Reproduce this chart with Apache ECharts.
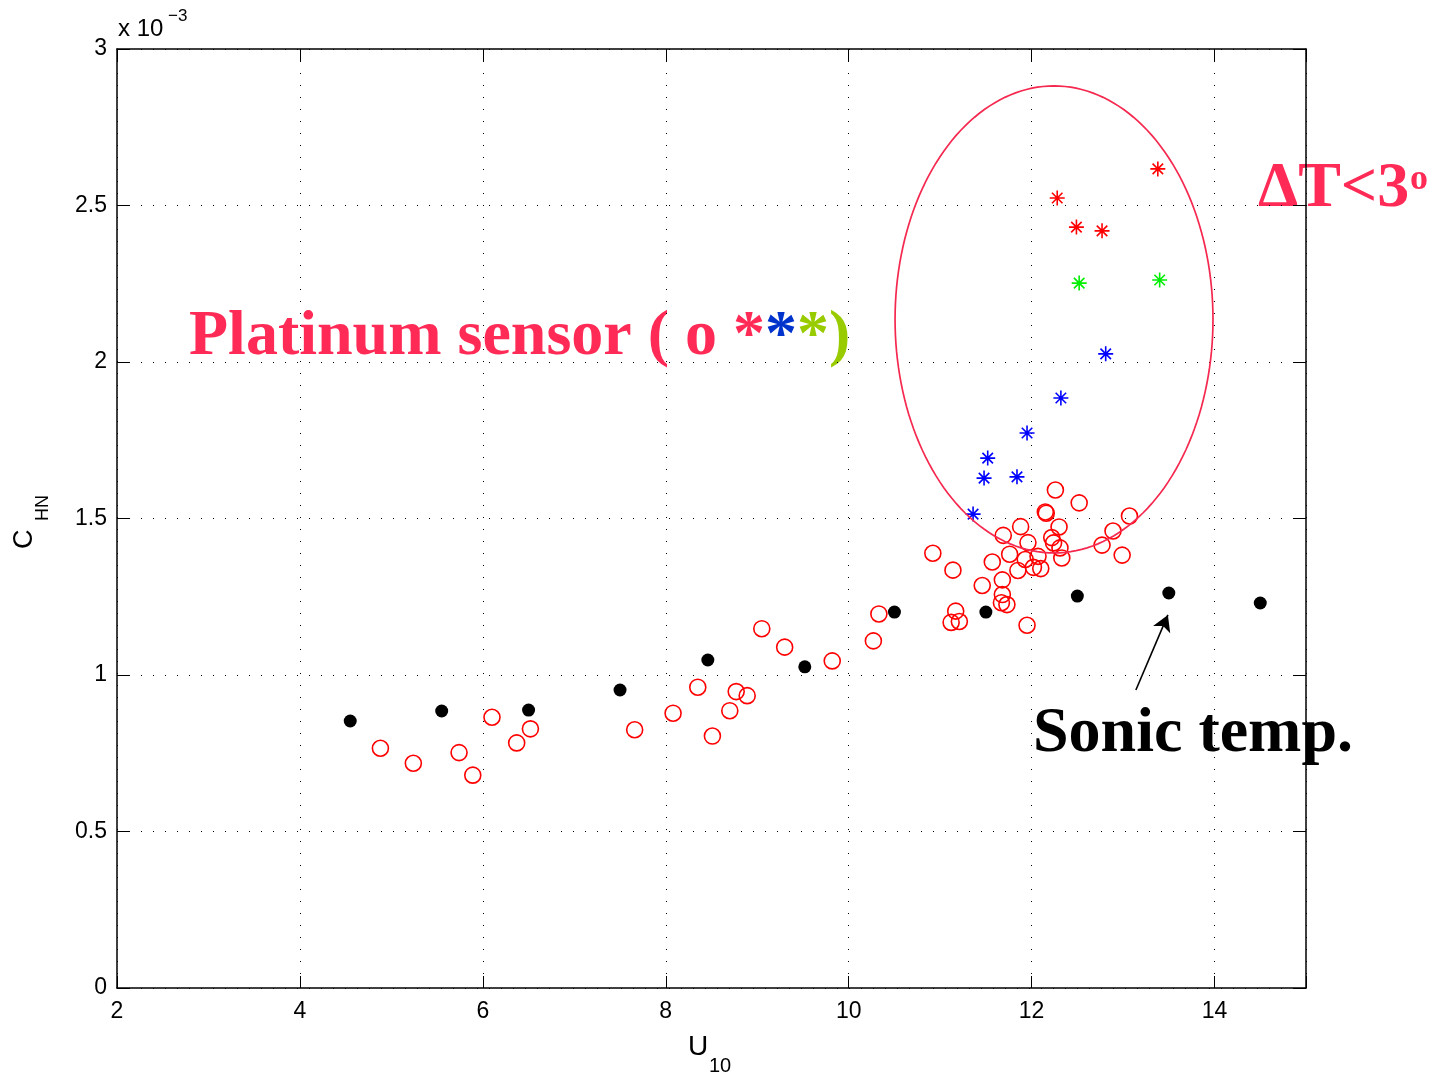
<!DOCTYPE html>
<html>
<head>
<meta charset="utf-8">
<script src="https://cdn.jsdelivr.net/npm/echarts@6/dist/echarts.min.js"></script>
<style>
html,body{margin:0;padding:0;background:#fff;}
#chart{width:1439px;height:1077px;}
</style>
</head>
<body>
<div id="chart"></div>
<script>
// C_HN values are in units of 1e-3 (axis shows "x 10^-3")
const xTicks = [2, 4, 6, 8, 10, 12, 14];
const yTicks = [0, 0.5, 1, 1.5, 2, 2.5, 3];

// Platinum sensor (open red circles): [U10, C_HN x1e3]
const platinumCircles = [
  [4.88,0.766],[5.24,0.718],[5.74,0.752],[5.89,0.680],[6.10,0.865],[6.37,0.783],[6.52,0.828],
  [7.66,0.825],[8.08,0.878],[8.35,0.961],[8.70,0.886],[8.77,0.947],[8.89,0.934],[8.51,0.805],
  [9.05,1.148],[9.30,1.089],[9.82,1.045],[10.27,1.109],[10.33,1.195],[10.92,1.389],[11.14,1.335],
  [11.17,1.204],[11.12,1.168],[11.21,1.171],[11.46,1.286],[11.57,1.361],[11.69,1.446],[11.68,1.304],
  [11.68,1.257],[11.67,1.231],[11.73,1.225],[11.76,1.386],[11.85,1.334],[11.88,1.474],[11.93,1.369],
  [11.95,1.159],[11.96,1.423],[12.02,1.344],[12.10,1.340],[12.07,1.379],[12.15,1.521],[12.16,1.517],
  [12.22,1.439],[12.24,1.422],[12.26,1.591],[12.30,1.473],[12.31,1.406],[12.33,1.374],[12.52,1.550],
  [12.77,1.415],[12.89,1.460],[12.99,1.383],[13.07,1.508]
];
// Sonic temperature (filled black dots)
const sonicDots = [
  [4.55,0.853],[5.55,0.885],[6.50,0.888],[7.50,0.952],[8.46,1.048],[9.52,1.026],
  [10.50,1.201],[11.50,1.201],[12.50,1.252],[13.50,1.262],[14.50,1.230]
];
// Asterisks (dT < 3 deg)
const redStars = [[12.28,2.524],[12.49,2.431],[12.77,2.419],[13.38,2.617]];
const greenStars = [[12.52,2.252],[13.40,2.262]];
const blueStars = [[12.81,2.026],[12.32,1.885],[11.95,1.773],[11.52,1.693],[11.48,1.629],[11.84,1.633],[11.36,1.514]];

// Annotation ellipse (center, semi-axes in data units)
const ellipseCenter = [12.245, 2.136];
const ellipseRadii = [1.738, 0.746];
// Arrow pointing to sonic point
const arrowFrom = [13.14, 0.952];
const arrowTo = [13.49, 1.192];

const PINK = '#ff2a55';
const STAR = 'path://M10,0L10,20M0,10L20,10M3,3L17,17M3,17L17,3';

const chart = echarts.init(document.getElementById('chart'));

const gridLine = {show:true, lineStyle:{color:'#000', width:1, type:[1,11]}};
const labelFont = {fontFamily:'Liberation Sans, Arial, sans-serif', fontSize:23, color:'#000'};

function starSeries(data, color){
  return {type:'scatter', data:data, symbol:STAR, symbolSize:15,
    itemStyle:{color:color, borderColor:color, borderWidth:1.6, opacity:1}, z:4};
}

const option = {
  animation:false,
  backgroundColor:'#fff',
  grid:{left:117, right:133, top:49, bottom:89},
  xAxis:[{
    type:'value', min:2, max:15, interval:2, position:'bottom',
    axisLine:{show:true, onZero:false, lineStyle:{color:'#000', width:1.5}},
    axisTick:{show:true, inside:true, length:12, lineStyle:{color:'#000', width:1}},
    axisLabel:Object.assign({margin:12, formatter:v => xTicks.indexOf(v) >= 0 ? String(v) : ''}, labelFont),
    splitLine:gridLine
  },{
    type:'value', min:2, max:15, interval:2, position:'top',
    axisLine:{show:true, onZero:false, lineStyle:{color:'#000', width:1.5}},
    axisTick:{show:true, inside:true, length:12, lineStyle:{color:'#000', width:1}},
    axisLabel:{show:false}, splitLine:{show:false}
  }],
  yAxis:[{
    type:'value', min:0, max:3, interval:0.5, position:'left',
    axisLine:{show:true, onZero:false, lineStyle:{color:'#000', width:1.5}},
    axisTick:{show:true, inside:true, length:12, lineStyle:{color:'#000', width:1}},
    axisLabel:Object.assign({margin:10, formatter:v => yTicks.indexOf(v) >= 0 ? String(v) : ''}, labelFont),
    splitLine:gridLine
  },{
    type:'value', min:0, max:3, interval:0.5, position:'right',
    axisLine:{show:true, onZero:false, lineStyle:{color:'#000', width:1.5}},
    axisTick:{show:true, inside:true, length:12, lineStyle:{color:'#000', width:1}},
    axisLabel:{show:false}, splitLine:{show:false}
  }],
  series:[
    {type:'scatter', data:platinumCircles, symbol:'circle', symbolSize:16,
      itemStyle:{color:'rgba(255,255,255,0)', borderColor:'#ff0000', borderWidth:1.6, opacity:1}, z:3},
    {type:'scatter', data:sonicDots, symbol:'circle', symbolSize:13,
      itemStyle:{color:'#000', opacity:1}, z:3,
      markLine:{silent:true, symbol:['none','arrow'], symbolSize:[14,16],
        label:{show:false}, lineStyle:{color:'#000', width:1.6, type:'solid', opacity:1},
        data:[[{coord:arrowFrom},{coord:arrowTo}]]}},
    starSeries(redStars, '#ff0000'),
    starSeries(greenStars, '#00ee00'),
    starSeries(blueStars, '#0000ff'),
    {type:'custom', data:[ellipseCenter], z:5, silent:true,
      renderItem:function(params, api){
        const pts = [];
        const n = 180;
        for(let i=0;i<=n;i++){
          const t = i/n*2*Math.PI;
          pts.push(api.coord([ellipseCenter[0]+ellipseRadii[0]*Math.cos(t), ellipseCenter[1]+ellipseRadii[1]*Math.sin(t)]));
        }
        return {type:'polyline', shape:{points:pts}, style:{fill:null, stroke:'#f5284f', lineWidth:1.7}};
      }}
  ],
  graphic:[
    {type:'text', style:{x:118, y:29, text:'x 10', font:'24px "Liberation Sans", Arial, sans-serif', fill:'#000', textAlign:'left', textVerticalAlign:'middle'}},
    {type:'text', style:{x:168, y:16, text:'\u22123', font:'17px "Liberation Sans", Arial, sans-serif', fill:'#000', textAlign:'left', textVerticalAlign:'middle'}},
    {type:'text', style:{x:688, y:1047, text:'U', font:'28px "Liberation Sans", Arial, sans-serif', fill:'#000', textAlign:'left', textVerticalAlign:'middle'}},
    {type:'text', style:{x:709, y:1066, text:'10', font:'20px "Liberation Sans", Arial, sans-serif', fill:'#000', textAlign:'left', textVerticalAlign:'middle'}},
    {type:'group', x:25, y:549, rotation:Math.PI/2, children:[
      {type:'text', x:0, y:0, style:{text:'C', font:'27px "Liberation Sans", Arial, sans-serif', fill:'#000', textAlign:'left', textVerticalAlign:'middle'}},
      {type:'text', x:28, y:18, style:{text:'HN', font:'18px "Liberation Sans", Arial, sans-serif', fill:'#000', textAlign:'left', textVerticalAlign:'middle'}}
    ]},
    {type:'text', style:{x:189, y:337, text:'{p|Platinum sensor ( o }{r|*}{b|*}{g|*)}',
      font:'bold 64px "Liberation Serif", "Times New Roman", serif', textAlign:'left', textVerticalAlign:'middle',
      rich:{
        p:{fill:PINK, color:PINK, fontFamily:'"Liberation Serif", serif', fontWeight:'bold', fontSize:64},
        r:{fill:PINK, color:PINK, fontFamily:'"Liberation Serif", serif', fontWeight:'bold', fontSize:64},
        b:{fill:'#0033cc', color:'#0033cc', fontFamily:'"Liberation Serif", serif', fontWeight:'bold', fontSize:64},
        g:{fill:'#99cc00', color:'#99cc00', fontFamily:'"Liberation Serif", serif', fontWeight:'bold', fontSize:64}
      }}},
    {type:'text', style:{x:1258, y:189, text:'\u0394T<3', font:'bold 64px "Liberation Serif", "Times New Roman", serif', fill:PINK, textAlign:'left', textVerticalAlign:'middle'}},
    {type:'text', style:{x:1410, y:180, text:'o', font:'bold 36px "Liberation Serif", "Times New Roman", serif', fill:PINK, textAlign:'left', textVerticalAlign:'middle'}},
    {type:'text', style:{x:1033, y:734, text:'Sonic temp.', font:'bold 64px "Liberation Serif", "Times New Roman", serif', fill:'#000', textAlign:'left', textVerticalAlign:'middle'}}
  ]
};
chart.setOption(option);
</script>
</body>
</html>
